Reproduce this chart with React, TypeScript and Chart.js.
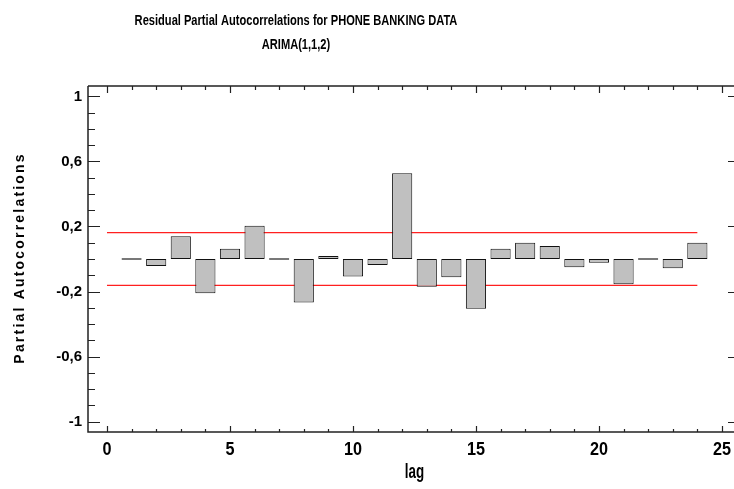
import React, { useEffect, useRef } from "react";
import { Chart, registerables } from "chart.js";

Chart.register(...registerables);

const titleLines = ["Residual Partial Autocorrelations for PHONE BANKING DATA", "ARIMA(1,1,2)"];
const xAxisTitle = "lag";
const yAxisTitle = "Partial Autocorrelations";

const lags = [1, 2, 3, 4, 5, 6, 7, 8, 9, 10, 11, 12, 13, 14, 15, 16, 17, 18, 19, 20, 21, 22, 23, 24];
const pacf = [
  0.0, -0.043, 0.14, -0.211, 0.063, 0.205, 0.0, -0.267, 0.018, -0.107, -0.037, 0.527,
  -0.17, -0.113, -0.306, 0.063, 0.1, 0.08, -0.051, -0.023, -0.156, 0.0, -0.057, 0.1,
];
const upperLimit = 0.162;
const lowerLimit = -0.162;
const limitStart = 0;
const limitEnd = 24;

const xMajorTicks = [0, 5, 10, 15, 20, 25];
const yMajorTicks = [-1, -0.6, -0.2, 0.2, 0.6, 1];

const SANS = "'Liberation Sans', Arial, sans-serif";

function fmt(v: number) {
  const r = Math.round(v * 10) / 10;
  if (Number.isInteger(r)) return String(r);
  return r.toFixed(1).replace(".", ",");
}

function squeezedText(ctx: any, text: string, x: number, y: number, font: string, sx: number) {
  ctx.save();
  ctx.translate(x, y);
  ctx.scale(sx, 1);
  ctx.font = font;
  ctx.textAlign = "center";
  ctx.textBaseline = "alphabetic";
  ctx.fillText(text, 0, 0);
  ctx.restore();
}

const framePlugin = {
  id: "frame",
  afterDraw(chart: any) {
    const ctx = chart.ctx;
    const { left, right, top, bottom } = chart.chartArea;
    const xs = chart.scales.x;
    const ys = chart.scales.y;
    ctx.save();
    ctx.strokeStyle = "#222";
    ctx.lineWidth = 1.5;
    ctx.beginPath();
    ctx.moveTo(left, top);
    ctx.lineTo(right + 2, top);
    ctx.moveTo(left, top);
    ctx.lineTo(left, bottom);
    ctx.lineTo(right + 2, bottom);
    ctx.moveTo(right + 1, top);
    ctx.lineTo(right + 1, bottom);
    ctx.stroke();

    ctx.lineWidth = 1.2;
    ctx.beginPath();
    for (let k = Math.ceil(xs.min); k <= Math.floor(xs.max); k++) {
      const px = Math.round(xs.getPixelForValue(k)) + 0.5;
      const major = xMajorTicks.includes(k);
      ctx.moveTo(px, bottom);
      ctx.lineTo(px, bottom - (major ? 6 : 3));
      ctx.moveTo(px, top);
      ctx.lineTo(px, top + (major ? 7 : 4));
    }
    for (let k = -10; k <= 10; k++) {
      const v = k / 10;
      const py = Math.round(ys.getPixelForValue(v)) + 0.5;
      const major = yMajorTicks.some((m) => Math.abs(m - v) < 1e-6);
      ctx.moveTo(left, py);
      ctx.lineTo(left + (major ? 12 : 7), py);
      if (major) {
        ctx.moveTo(right + 1, py);
        ctx.lineTo(right - 6, py);
      }
    }
    ctx.stroke();

    ctx.fillStyle = "#000";
    squeezedText(ctx, titleLines[0], 296, 25, `bold 15px ${SANS}`, 0.74);
    squeezedText(ctx, titleLines[1], 296, 49, `bold 15px ${SANS}`, 0.74);

    for (const v of xMajorTicks) {
      squeezedText(ctx, String(v), xs.getPixelForValue(v), 455, `bold 18px ${SANS}`, 0.9);
    }
    squeezedText(ctx, xAxisTitle, 414.5, 478, `bold 20px ${SANS}`, 0.67);

    ctx.save();
    ctx.translate(24, (top + bottom) / 2);
    ctx.rotate(-Math.PI / 2);
    ctx.font = `bold 14px ${SANS}`;
    (ctx as any).letterSpacing = "2.2px";
    ctx.textAlign = "left";
    ctx.textBaseline = "alphabetic";
    const w = ctx.measureText(yAxisTitle).width - 2.2;
    ctx.fillText(yAxisTitle, -w / 2, 0);
    ctx.restore();
    ctx.restore();
  },
};

export default function App() {
  const ref = useRef<HTMLCanvasElement | null>(null);
  useEffect(() => {
    if (!ref.current) return;
    const chart = new Chart(ref.current, {
      type: "bar",
      data: {
        datasets: [
          {
            type: "bar",
            data: lags.map((l, i) => ({ x: l, y: pacf[i] })),
            backgroundColor: "#c0c0c0",
            borderColor: "#111",
            borderWidth: 1,
            borderSkipped: false,
            barPercentage: 0.82,
            categoryPercentage: 1,
            minBarLength: 1.5,
          } as any,
          {
            type: "line",
            data: [
              { x: limitStart, y: upperLimit },
              { x: limitEnd, y: upperLimit },
            ],
            borderColor: "#ff2020",
            borderWidth: 1.3,
            pointRadius: 0,
          } as any,
          {
            type: "line",
            data: [
              { x: limitStart, y: lowerLimit },
              { x: limitEnd, y: lowerLimit },
            ],
            borderColor: "#ff2020",
            borderWidth: 1.3,
            pointRadius: 0,
          } as any,
        ],
      },
      options: {
        responsive: false,
        animation: false,
        layout: { padding: { top: 86, right: 0, left: 0, bottom: 0 } },
        plugins: { legend: { display: false }, tooltip: { enabled: false }, title: { display: false } },
        scales: {
          x: {
            type: "linear",
            min: -0.772,
            max: 25.49,
            offset: false,
            grid: { display: false, drawTicks: false, offset: false },
            border: { display: false },
            afterBuildTicks: (s: any) => {
              s.ticks = xMajorTicks.map((v) => ({ value: v }));
            },
            afterFit: (s: any) => {
              s.height = 57;
            },
            ticks: { display: false },
          },
          y: {
            type: "linear",
            min: -1.0646,
            max: 1.0646,
            grid: { display: false, drawTicks: false },
            border: { display: false },
            afterBuildTicks: (s: any) => {
              s.ticks = yMajorTicks.map((v) => ({ value: v }));
            },
            afterFit: (s: any) => {
              s.width = 88;
            },
            ticks: {
              autoSkip: false,
              padding: 6,
              color: "#000",
              font: { family: SANS, size: 15, weight: "bold" },
              callback: (v: any) => fmt(Number(v)),
            },
          },
        },
      } as any,
      plugins: [framePlugin],
    });
    return () => chart.destroy();
  }, []);
  return (
    <div style={{ position: "fixed", left: 0, top: 0, width: 734, height: 489, overflow: "hidden", background: "#fff" }}>
      <canvas ref={ref} width={734} height={489} style={{ display: "block" }} />
    </div>
  );
}
